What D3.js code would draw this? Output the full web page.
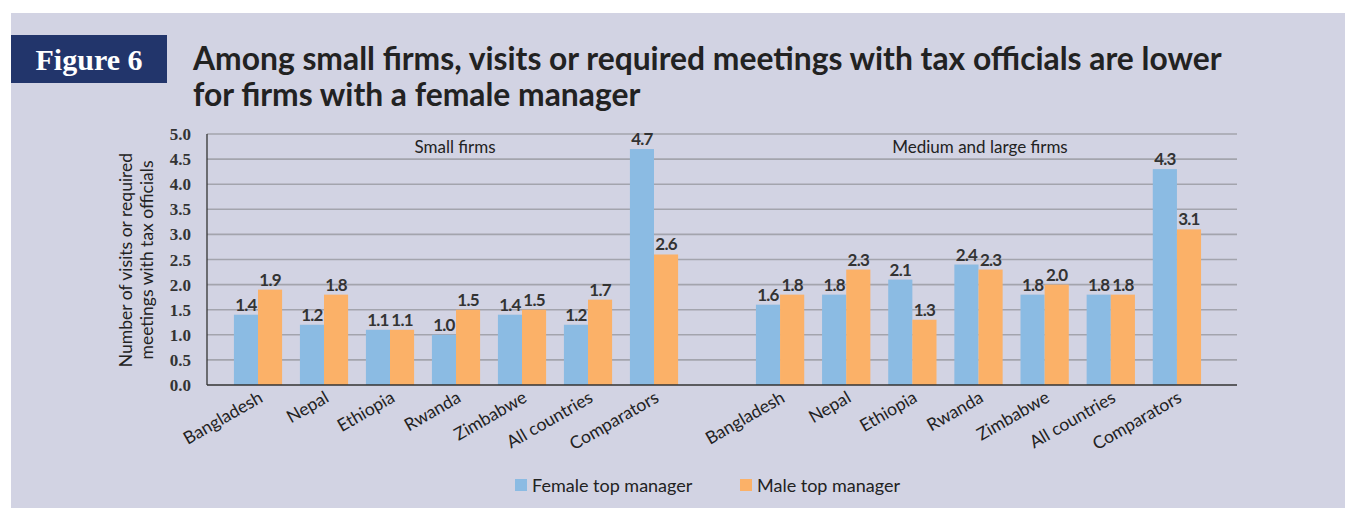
<!DOCTYPE html>
<html><head><meta charset="utf-8">
<script src="https://cdn.jsdelivr.net/npm/d3@7"></script>
<style>html,body{margin:0;padding:0;background:#fff;}svg{display:block;}</style>
</head><body>
<script>
const categories = ["Bangladesh","Nepal","Ethiopia","Rwanda","Zimbabwe","All countries","Comparators"];
const smallFemale = [1.4,1.2,1.1,1.0,1.4,1.2,4.7];
const smallMale   = [1.9,1.8,1.1,1.5,1.5,1.7,2.6];
const medFemale   = [1.6,1.8,2.1,2.4,1.8,1.8,4.3];
const medMale     = [1.8,2.3,1.3,2.3,2.0,1.8,3.1];
const yTicks = [0,0.5,1,1.5,2,2.5,3,3.5,4,4.5,5];
const seriesNames = ["Female top manager","Male top manager"];
const panelNames = ["Small firms","Medium and large firms"];
const colors = ["#8bbbe3","#fbb168"];

const W=1345,H=508;
const svg=d3.select("body").append("svg").attr("width",W).attr("height",H);
svg.append("rect").attr("x",11).attr("y",13).attr("width",W-11).attr("height",H-13).attr("fill","#d2d3e3");
svg.append("rect").attr("x",11).attr("y",35).attr("width",156).attr("height",48).attr("fill","#22356b");
svg.append("text").attr("x",89).attr("y",70).attr("text-anchor","middle").attr("fill","#fff")
  .style("font-family","'Liberation Serif',serif").style("font-weight","bold").style("font-size","30px").text("Figure 6");

function fitText(sel,w){const n=sel.node();let fs=parseFloat(sel.style("font-size"));const l=n.getComputedTextLength();sel.style("font-size",(fs*w/l)+"px");}
const t1=svg.append("text").attr("x",193).attr("y",70).attr("fill","#222")
  .style("font-family","Lato,sans-serif").style("font-weight","bold").style("font-size","28px")
  .text("Among small firms, visits or required meetings with tax officials are lower");
fitText(t1,1029);
const fs=t1.style("font-size");
svg.append("text").attr("x",193).attr("y",106).attr("fill","#222")
  .style("font-family","Lato,sans-serif").style("font-weight","bold").style("font-size",fs)
  .text("for firms with a female manager");

const y=d3.scaleLinear().domain([0,5]).range([385,134]);
const xL=207,xR=1237;
const g=svg.append("g");
g.selectAll("line.grid").data(yTicks.slice(1)).join("line")
  .attr("x1",xL).attr("x2",xR).attr("y1",d=>y(d)).attr("y2",d=>y(d))
  .attr("stroke","#a3a4ad").attr("stroke-width",1.6);
g.selectAll("text.tick").data(yTicks).join("text")
  .attr("x",191).attr("y",d=>y(d)+6).attr("text-anchor","end").attr("fill","#333")
  .style("font-family","'Liberation Serif',serif").style("font-weight","bold").style("font-size","17px")
  .text(d=>d.toFixed(1));

const panels=[
 {name:panelNames[0],f:smallFemale,m:smallMale,range:[225,687],labelX:455},
 {name:panelNames[1],f:medFemale,m:medMale,range:[747,1210],labelX:980}
];
panels.forEach(p=>{
  const x=d3.scaleBand().domain(categories).range(p.range).paddingInner(0.27).paddingOuter(0.135);
  const xs=d3.scaleBand().domain([0,1]).range([0,x.bandwidth()]);
  const data=[];
  categories.forEach((c,i)=>{data.push({c,s:0,v:p.f[i]});data.push({c,s:1,v:p.m[i]});});
  g.selectAll(null).data(data).join("rect")
    .attr("x",d=>x(d.c)+xs(d.s)).attr("width",xs.bandwidth())
    .attr("y",d=>y(d.v)).attr("height",d=>y(0)-y(d.v)).attr("fill",d=>colors[d.s]);
  g.selectAll(null).data(data).join("text")
    .attr("x",d=>x(d.c)+xs(d.s)+xs.bandwidth()/2).attr("y",d=>y(d.v)-4)
    .attr("text-anchor","middle").attr("fill","#333")
    .style("font-family","Lato,sans-serif").style("font-weight","bold").style("font-size","17px")
    .style("letter-spacing","-0.8px")
    .text(d=>d.v.toFixed(1));
  g.selectAll(null).data(categories).join("text")
    .attr("transform",c=>`translate(${x(c)+x.bandwidth()/2+6},${401}) rotate(-30)`)
    .attr("text-anchor","end").attr("fill","#222")
    .style("font-family","Lato,sans-serif").style("font-size","17.5px").text(c=>c);
  g.append("text").attr("x",p.labelX).attr("y",153).attr("text-anchor","middle").attr("fill","#222")
    .style("font-family","Lato,sans-serif").style("font-size","17px").text(p.name);
});
g.append("line").attr("x1",xL).attr("x2",xR).attr("y1",y(0)).attr("y2",y(0)).attr("stroke","#333").attr("stroke-width",1.6);
g.append("line").attr("x1",xL).attr("x2",xL).attr("y1",y(0)).attr("y2",y(5)).attr("stroke","#333").attr("stroke-width",1.3);

const yt=svg.append("text").attr("text-anchor","middle").attr("fill","#222")
  .style("font-family","Lato,sans-serif").style("font-size","17.5px");
yt.append("tspan").attr("x",-260).attr("y",132).text("Number of visits or required");
yt.append("tspan").attr("x",-260).attr("y",153).text("meetings with tax officials");
yt.attr("transform","rotate(-90)");

const lg=svg.append("g");
const lx=[515,740];
seriesNames.forEach((s,i)=>{
  lg.append("rect").attr("x",lx[i]).attr("y",479).attr("width",12).attr("height",12).attr("fill",colors[i]);
  lg.append("text").attr("x",lx[i]+17).attr("y",492).attr("fill","#222")
    .style("font-family","Lato,sans-serif").style("font-size","18px").text(s);
});
</script>
</body></html>
